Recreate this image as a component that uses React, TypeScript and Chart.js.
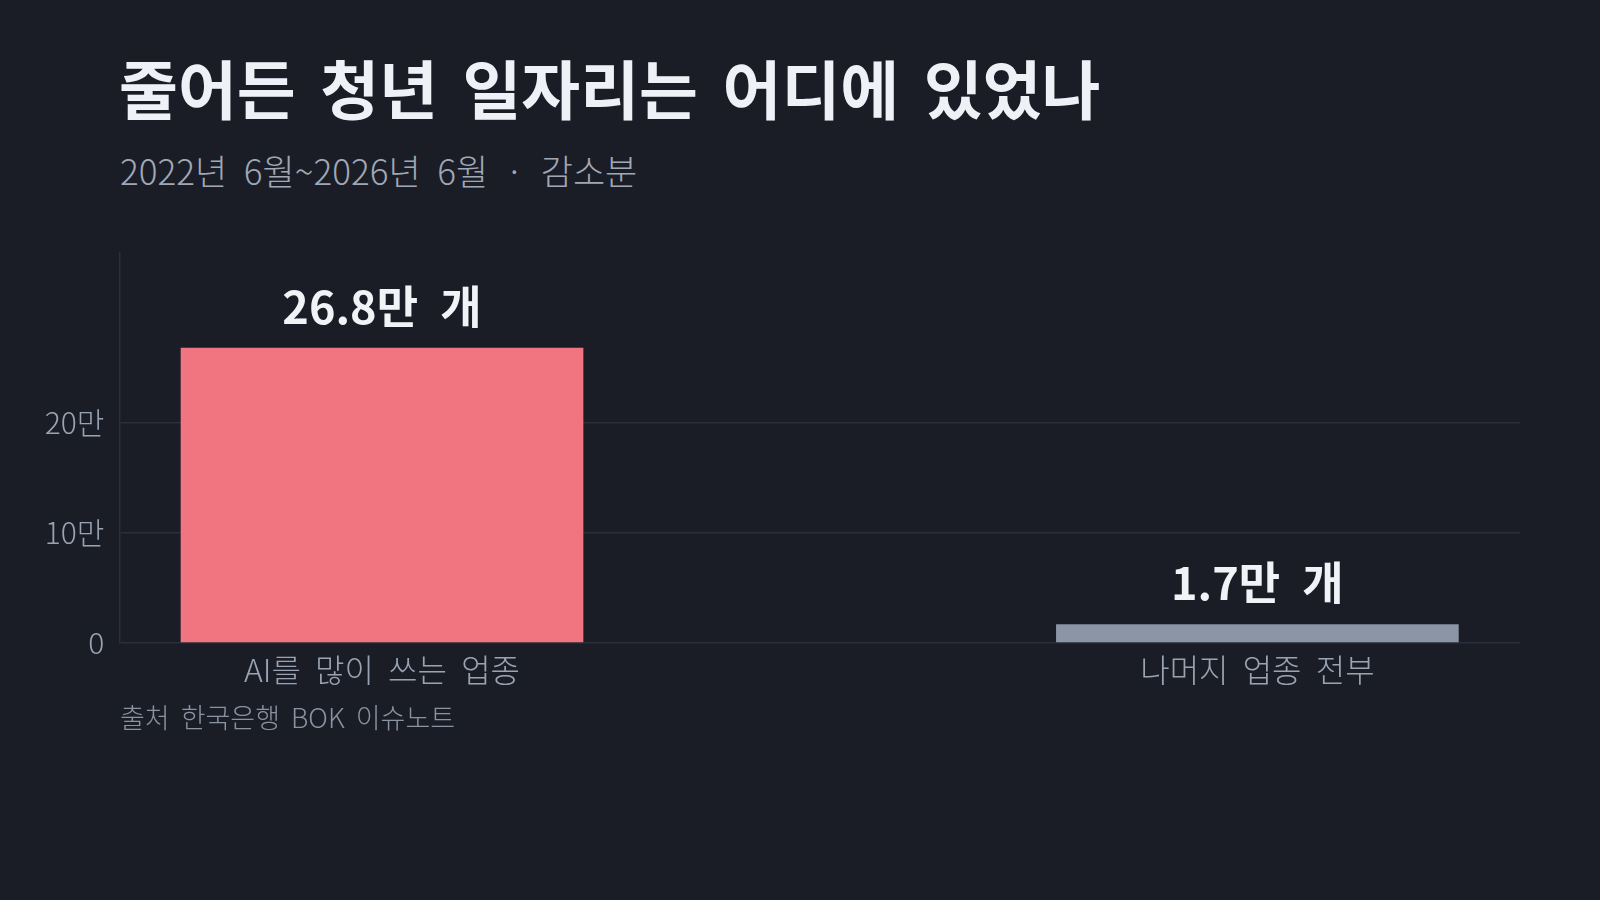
import React, { useEffect, useRef } from "react"
import Chart from "chart.js/auto"

const categories = ["AI를 많이 쓰는 업종", "나머지 업종 전부"]
const decreases = [26.8, 1.7] // 만 개
const valueLabels = ["26.8만 개", "1.7만 개"]
const barColors = ["#f07580", "#8b95a5"]
const yTicks = [0, 10, 20]

const FONT = "'Noto Sans CJK KR', 'Noto Sans', sans-serif"
const BG = "#1a1d26"

const valueLabelPlugin = {
    id: "valueLabels",
    afterDatasetsDraw(chart: any) {
        const ctx = chart.ctx
        const meta = chart.getDatasetMeta(0)
        ctx.save()
        ctx.font = `bold 45px ${FONT}`
        ctx.fillStyle = "#f1f3f7"
        ctx.textAlign = "center"
        ctx.textBaseline = "alphabetic"
        ;(ctx as any).wordSpacing = "12px"
        meta.data.forEach((bar: any, i: number) => {
            ctx.fillText(valueLabels[i], bar.x, bar.y - 24)
        })
        ctx.restore()
    },
}

const BarChart = () => {
    const chartRef = useRef<HTMLCanvasElement | null>(null)

    useEffect(() => {
        const ctx = chartRef.current?.getContext("2d")
        if (!ctx) return
        const chart = new Chart(ctx, {
            type: "bar",
            data: {
                datasets: [
                    {
                        data: decreases.map((v, i) => ({ x: i, y: v })),
                        backgroundColor: barColors,
                        barPercentage: 0.46,
                        categoryPercentage: 1,
                    },
                ],
            },
            options: {
                animation: false,
                responsive: true,
                maintainAspectRatio: false,
                layout: { padding: { top: 13, right: 20, left: 0, bottom: 0 } },
                plugins: { legend: { display: false }, tooltip: { enabled: false } },
                scales: {
                    x: {
                        type: "linear",
                        min: -0.3,
                        max: 1.3,
                        offset: false,
                        grid: { display: false, drawTicks: false },
                        border: { display: false },
                        afterBuildTicks: (scale: any) => {
                            scale.ticks = categories.map((_, i) => ({ value: i }))
                        },
                        afterFit: (scale: any) => {
                            scale.height = 57
                        },
                        ticks: {
                            color: "#9aa3b3",
                            font: { family: FONT, size: 32, weight: "300" },
                            padding: 8,
                            callback: (v: any) => (categories[v] ?? "").replace(/ /g, "  "),
                        },
                    },
                    y: {
                        min: 0,
                        max: 35.4,
                        grid: { color: "#2a2f3b", lineWidth: 1.5, drawTicks: false },
                        border: { color: "#2a2f3b", width: 1.5 },
                        afterBuildTicks: (scale: any) => {
                            scale.ticks = yTicks.map((v) => ({ value: v }))
                        },
                        afterFit: (scale: any) => {
                            scale.width = 119.4
                        },
                        ticks: {
                            color: "#9aa3b3",
                            font: { family: FONT, size: 30, weight: "300" },
                            padding: 15,
                            callback: (v: any) => (v === 0 ? "0" : `${v}만`),
                        },
                    },
                },
            },
            plugins: [valueLabelPlugin],
        })

        return () => {
            chart.destroy()
        }
    }, [])

    return <canvas ref={chartRef} />
}

const App = () => {
    return (
        <div
            style={{
                position: "fixed",
                left: 0,
                top: 0,
                width: 1600,
                height: 900,
                background: BG,
                fontFamily: FONT,
                overflow: "hidden",
            }}
        >
            <div
                style={{
                    position: "absolute",
                    left: 119,
                    top: 54,
                    fontSize: 64,
                    lineHeight: 1,
                    fontWeight: 700,
                    wordSpacing: 10,
                    color: "#eef1f6",
                    whiteSpace: "nowrap",
                }}
            >
                줄어든 청년 일자리는 어디에 있었나
            </div>
            <div
                style={{
                    position: "absolute",
                    left: 120,
                    top: 152,
                    fontSize: 35,
                    lineHeight: 1,
                    fontWeight: 300,
                    wordSpacing: 9,
                    color: "#a0a8b6",
                    whiteSpace: "nowrap",
                }}
            >
                2022년 6월~2026년 6월 · 감소분
            </div>
            <div style={{ position: "absolute", left: 0, top: 220, width: 1540, height: 480 }}>
                <BarChart />
            </div>
            <div
                style={{
                    position: "absolute",
                    left: 120,
                    top: 703,
                    fontSize: 27,
                    lineHeight: 1,
                    fontWeight: 300,
                    wordSpacing: 5,
                    color: "#8a93a3",
                    whiteSpace: "nowrap",
                }}
            >
                출처 한국은행 BOK 이슈노트
            </div>
        </div>
    )
}

export default App
